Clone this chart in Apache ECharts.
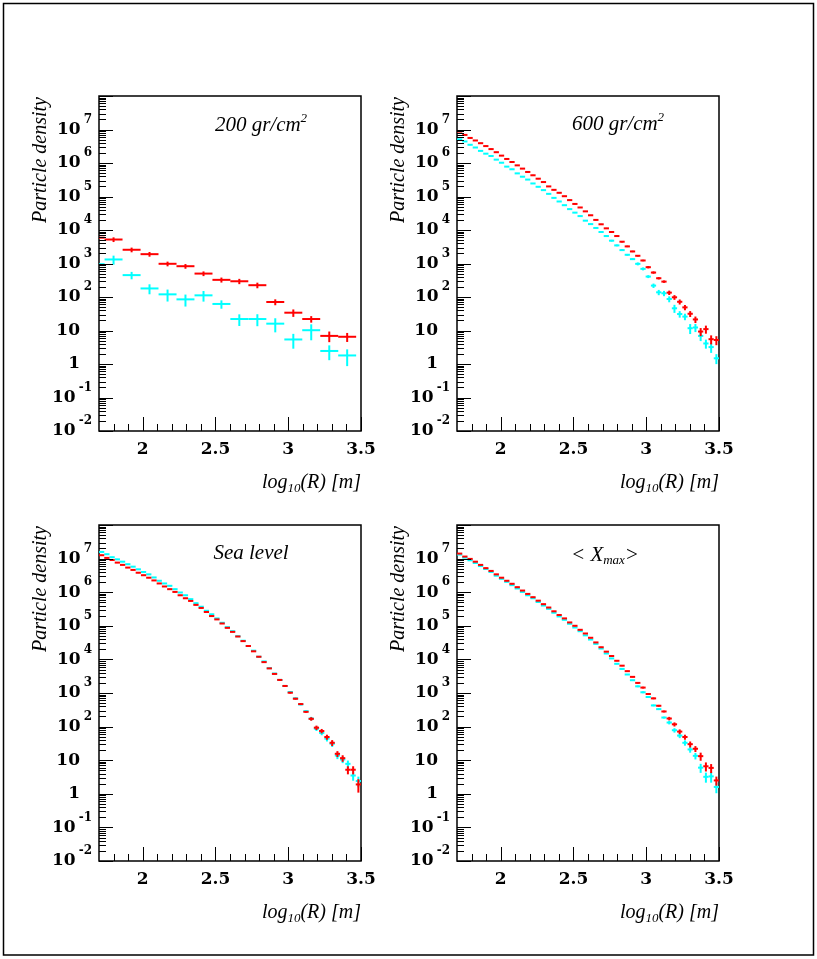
<!DOCTYPE html>
<html><head><meta charset="utf-8">
<script src="https://cdn.jsdelivr.net/npm/echarts@6/dist/echarts.min.js"></script>
<style>html,body{margin:0;padding:0;background:#fff}#c{width:817px;height:959px}</style>
</head><body><div id="c"></div>
<script>
// ---------------- data ----------------
const panelTitles = ['200 gr/cm{sup|2}', '600 gr/cm{sup|2}', 'Sea level', '< X{sub|max}>'];
const xTitle = 'log{sub|10}(R) [m]';
const yTitle = 'Particle density';
const xTickLabels = [2, 2.5, 3, 3.5];
const xMinorTicks = [1.8, 1.9, 2.1, 2.2, 2.3, 2.4, 2.6, 2.7, 2.8, 2.9, 3.1, 3.2, 3.3, 3.4];
const yDecades = [-2, -1, 0, 1, 2, 3, 4, 5, 6, 7, 8];
const yLabelDecades = [-2, -1, 0, 1, 2, 3, 4, 5, 6, 7];

// panel 1 (200 gr/cm2): coarse bins
const binWidthCoarse = 0.1234;
const xCoarse = [1.677, 1.800, 1.924, 2.047, 2.171, 2.294, 2.418, 2.541, 2.664, 2.788, 2.911, 3.035, 3.158, 3.282, 3.405];
const p1Red     = [5900, 5200, 2570, 1900, 980, 830, 500, 325, 295, 225, 71, 34, 22, 6.9, 6.5];
const p1RedErr  = [0.16, 0.16, 0.16, 0.16, 0.16, 0.16, 0.16, 0.17, 0.18, 0.19, 0.2, 0.25, 0.22, 0.35, 0.3];
const p1Cyan    = [955, 1320, 450, 180, 120, 85, 112, 62, 22, 22, 16, 5.4, 10.2, 2.45, 1.8];
const p1CyanErr = [0.3, 0.3, 0.25, 0.33, 0.39, 0.39, 0.35, 0.28, 0.38, 0.39, 0.45, 0.47, 0.5, 0.47, 0.52];

// panels 2-4: fine bins
const binWidthFine = 0.036;
const xFine = [1.718, 1.754, 1.790, 1.826, 1.862, 1.898, 1.934, 1.970, 2.006, 2.042,
  2.078, 2.114, 2.150, 2.186, 2.222, 2.258, 2.294, 2.330, 2.366, 2.402,
  2.438, 2.474, 2.510, 2.546, 2.582, 2.618, 2.654, 2.690, 2.726, 2.762,
  2.798, 2.834, 2.870, 2.906, 2.942, 2.978, 3.014, 3.050, 3.086, 3.122,
  3.158, 3.194, 3.230, 3.266, 3.302, 3.338, 3.374, 3.410, 3.446, 3.482];

// panel 2 (600 gr/cm2)
const p2Red = [8.7e6, 6.9e6, 5.6e6, 4.7e6, 3.9e6, 3.2e6, 2.6e6, 2.1e6, 1.66e6, 1.32e6,
  1.07e6, 8.5e5, 6.8e5, 5.4e5, 4.3e5, 3.4e5, 2.7e5, 2.0e5, 1.58e5, 1.29e5,
  1.02e5, 7.8e4, 6.0e4, 4.7e4, 3.6e4, 2.75e4, 2.0e4, 1.48e4, 1.12e4, 8700,
  6600, 4470, 3240, 2290, 1700, 1230, 776, 537, 363, 288,
  135, 98, 72, 49, 31.6, 21.4, 9.3, 11, 5.5, 5.2];
const p2RedErr = [0.03, 0.03, 0.03, 0.03, 0.03, 0.03, 0.03, 0.03, 0.03, 0.03,
  0.03, 0.03, 0.03, 0.03, 0.03, 0.03, 0.03, 0.03, 0.03, 0.03,
  0.03, 0.03, 0.03, 0.03, 0.03, 0.03, 0.03, 0.03, 0.03, 0.03,
  0.05, 0.05, 0.05, 0.05, 0.05, 0.05, 0.08, 0.08, 0.08, 0.08,
  0.15, 0.16, 0.17, 0.18, 0.2, 0.22, 0.27, 0.27, 0.3, 0.3];
const p2Cyan = [5.1e6, 4.4e6, 3.5e6, 2.9e6, 2.3e6, 1.9e6, 1.62e6, 1.26e6, 1.02e6, 7.8e5,
  6.5e5, 4.9e5, 3.9e5, 3.2e5, 2.45e5, 1.95e5, 1.55e5, 1.2e5, 9.1e4, 7.1e4,
  5.5e4, 4.2e4, 3.3e4, 2.6e4, 1.9e4, 1.5e4, 1.15e4, 8700, 6600, 4800,
  3470, 2510, 1820, 1350, 977, 692, 407, 219, 138, 129,
  87, 46, 31, 26, 11.7, 12.3, 6.9, 4.1, 3.2, 1.48];
const p2CyanErr = [0.03, 0.03, 0.03, 0.03, 0.03, 0.03, 0.03, 0.03, 0.03, 0.03,
  0.03, 0.03, 0.03, 0.03, 0.03, 0.03, 0.03, 0.03, 0.03, 0.03,
  0.03, 0.03, 0.03, 0.03, 0.03, 0.03, 0.03, 0.03, 0.06, 0.06,
  0.06, 0.06, 0.06, 0.06, 0.1, 0.1, 0.1, 0.15, 0.18, 0.18,
  0.2, 0.27, 0.22, 0.22, 0.33, 0.27, 0.3, 0.3, 0.33, 0.33];

// panel 3 (Sea level)
const p3Red = [1.26e7, 1.05e7, 9.1e6, 7.6e6, 6.5e6, 5.4e6, 4.6e6, 3.8e6, 3.2e6, 2.7e6,
  2.24e6, 1.82e6, 1.48e6, 1.23e6, 1.02e6, 8.1e5, 6.6e5, 5.5e5, 4.2e5, 3.4e5,
  2.57e5, 1.95e5, 1.55e5, 1.17e5, 8.7e4, 6.6e4, 4.8e4, 3.5e4, 2.5e4, 1.74e4,
  1.2e4, 8300, 5400, 3700, 2450, 1620, 1020, 676, 468, 275,
  170, 93, 74, 49, 33, 15.5, 11.5, 5.2, 5.2, 1.9];
const p3RedErr = [0.03, 0.03, 0.03, 0.03, 0.03, 0.03, 0.03, 0.03, 0.03, 0.03,
  0.03, 0.03, 0.03, 0.03, 0.03, 0.03, 0.03, 0.03, 0.03, 0.03,
  0.03, 0.03, 0.03, 0.03, 0.03, 0.03, 0.03, 0.03, 0.03, 0.03,
  0.03, 0.03, 0.03, 0.03, 0.06, 0.06, 0.06, 0.06, 0.06, 0.06,
  0.12, 0.15, 0.15, 0.17, 0.2, 0.2, 0.22, 0.27, 0.27, 0.43];
const p3Cyan = [1.58e7, 1.35e7, 1.1e7, 9.5e6, 8.1e6, 6.8e6, 5.75e6, 4.8e6, 4.0e6, 3.4e6,
  2.75e6, 2.19e6, 1.82e6, 1.55e6, 1.23e6, 9.8e5, 8.1e5, 6.2e5, 4.7e5, 3.7e5,
  2.8e5, 2.2e5, 1.66e5, 1.23e5, 9.1e4, 6.9e4, 4.9e4, 3.6e4, 2.5e4, 1.82e4,
  1.2e4, 8700, 5500, 3800, 2450, 1620, 1070, 692, 457, 288,
  174, 87, 65, 44, 31, 13.8, 10.5, 7.8, 3.5, 2.4];
const p3CyanErr = [0.03, 0.03, 0.03, 0.03, 0.03, 0.03, 0.03, 0.03, 0.03, 0.03,
  0.03, 0.03, 0.03, 0.03, 0.03, 0.03, 0.03, 0.03, 0.03, 0.03,
  0.03, 0.03, 0.03, 0.03, 0.03, 0.03, 0.03, 0.03, 0.03, 0.03,
  0.03, 0.03, 0.03, 0.03, 0.06, 0.06, 0.06, 0.06, 0.06, 0.06,
  0.12, 0.15, 0.15, 0.18, 0.2, 0.22, 0.22, 0.25, 0.3, 0.35];

// panel 4 (<Xmax>)
const p4Red = [1.41e7, 1.15e7, 9.8e6, 8.1e6, 6.5e6, 5.2e6, 4.3e6, 3.4e6, 2.7e6, 2.19e6,
  1.78e6, 1.41e6, 1.12e6, 8.9e5, 7.1e5, 5.6e5, 4.4e5, 3.5e5, 2.7e5, 2.1e5,
  1.66e5, 1.26e5, 1.0e5, 7.6e4, 5.9e4, 4.4e4, 3.2e4, 2.3e4, 1.7e4, 1.26e4,
  9100, 6500, 4470, 3020, 2000, 1450, 933, 692, 417, 282,
  174, 117, 71, 49, 30, 21.9, 13.2, 6.6, 5.9, 2.5];
const p4RedErr = [0.03, 0.03, 0.03, 0.03, 0.03, 0.03, 0.03, 0.03, 0.03, 0.03,
  0.03, 0.03, 0.03, 0.03, 0.03, 0.03, 0.03, 0.03, 0.03, 0.03,
  0.03, 0.03, 0.03, 0.03, 0.03, 0.03, 0.03, 0.03, 0.03, 0.03,
  0.03, 0.03, 0.03, 0.03, 0.06, 0.06, 0.06, 0.06, 0.06, 0.06,
  0.12, 0.14, 0.16, 0.17, 0.2, 0.2, 0.27, 0.3, 0.3, 0.3];
const p4Cyan = [1.32e7, 1.07e7, 8.9e6, 7.4e6, 6.0e6, 4.9e6, 4.0e6, 3.1e6, 2.5e6, 2.04e6,
  1.62e6, 1.29e6, 1.02e6, 8.1e5, 6.6e5, 5.1e5, 4.0e5, 3.2e5, 2.45e5, 1.9e5,
  1.51e5, 1.15e5, 8.9e4, 6.9e4, 5.2e4, 3.9e4, 2.9e4, 2.1e4, 1.5e4, 1.07e4,
  7400, 5200, 3550, 2400, 1580, 1050, 759, 427, 331, 186,
  132, 78, 54, 33, 20.9, 13.5, 6.0, 3.2, 3.3, 1.6];
const p4CyanErr = [0.03, 0.03, 0.03, 0.03, 0.03, 0.03, 0.03, 0.03, 0.03, 0.03,
  0.03, 0.03, 0.03, 0.03, 0.03, 0.03, 0.03, 0.03, 0.03, 0.03,
  0.03, 0.03, 0.03, 0.03, 0.03, 0.03, 0.03, 0.03, 0.03, 0.03,
  0.03, 0.03, 0.03, 0.03, 0.06, 0.06, 0.06, 0.06, 0.06, 0.06,
  0.12, 0.15, 0.16, 0.18, 0.2, 0.22, 0.3, 0.33, 0.35, 0.35];

// ---------------- layout / style ----------------
const RED = '#ff0000', CYAN = '#00ffff';
const SERIF_B = 'DejaVu Serif';
const SERIF_I = 'Liberation Serif';
const gridBoxes = [
  {left: 99, top: 96, width: 262, height: 335},
  {left: 457, top: 96, width: 262, height: 335},
  {left: 99, top: 525, width: 262, height: 336},
  {left: 457, top: 525, width: 262, height: 336}
];
const panels = [
  {x: xCoarse, bw: binWidthCoarse, cyan: p1Cyan, cyanErr: p1CyanErr, red: p1Red, redErr: p1RedErr},
  {x: xFine, bw: binWidthFine, cyan: p2Cyan, cyanErr: p2CyanErr, red: p2Red, redErr: p2RedErr},
  {x: xFine, bw: binWidthFine, cyan: p3Cyan, cyanErr: p3CyanErr, red: p3Red, redErr: p3RedErr},
  {x: xFine, bw: binWidthFine, cyan: p4Cyan, cyanErr: p4CyanErr, red: p4Red, redErr: p4RedErr}
];
const titlePos = [[261, 125], [618, 124], [251, 553], [605, 555]];

function zip(xs, ys, es) { return xs.map((x, i) => [x, ys[i], es[i]]); }

function crossRenderer(halfWidth) {
  return function (params, api) {
    const x = api.value(0), y = api.value(1), f = api.value(2);
    const cs = params.coordSys;
    const c = api.coord([x, y]);
    let l = api.coord([x - halfWidth, y])[0];
    let r = api.coord([x + halfWidth, y])[0];
    l = Math.max(l, cs.x); r = Math.min(r, cs.x + cs.width);
    const t = api.coord([x, y * (1 + f)])[1];
    const b = api.coord([x, y * (1 - f)])[1];
    const st = {stroke: api.visual('color'), lineWidth: 2};
    const children = [{type: 'line', shape: {x1: l, y1: c[1], x2: r, y2: c[1]}, style: st}];
    if (c[0] >= cs.x) children.push({type: 'line', shape: {x1: c[0], y1: t, x2: c[0], y2: b}, style: st});
    return {type: 'group', children: children};
  };
}

function yTickRenderer(params, api) {
  const p = api.coord([api.value(0), api.value(1)]);
  const len = api.value(2) ? 14 : 7;
  const yy = Math.round(p[1]) + 0.5;
  return {type: 'line', shape: {x1: p[0], y1: yy, x2: p[0] + len, y2: yy}, style: {stroke: '#000', lineWidth: 1}};
}
function xTickRenderer(params, api) {
  const p = api.coord([api.value(0), api.value(1)]);
  const len = api.value(2) ? 14 : 7;
  const xx = Math.round(p[0]) + 0.5;
  return {type: 'line', shape: {x1: xx, y1: p[1], x2: xx, y2: p[1] - len}, style: {stroke: '#000', lineWidth: 1}};
}

const yTickData = [];
yDecades.forEach(d => {
  yTickData.push([1.7, Math.pow(10, d), 1]);
  if (d < 8) for (let m = 2; m <= 9; m++) yTickData.push([1.7, m * Math.pow(10, d), 0]);
});
const xTickData = xTickLabels.map(v => [v, 0.01, 1]).concat(xMinorTicks.map(v => [v, 0.01, 0]));

function xLabel(v) {
  const r = Math.round(v * 10) / 10;
  if (Math.abs(r * 2 - Math.round(r * 2)) < 1e-6 && r >= 2) return String(r);
  return '';
}

const grid = [], xAxis = [], yAxis = [], series = [];
gridBoxes.forEach((g, i) => {
  grid.push(Object.assign({show: true, borderColor: '#000', borderWidth: 1.5, backgroundColor: 'transparent',
    containLabel: false, outerBoundsMode: 'none'}, g));
  xAxis.push({type: 'value', gridIndex: i, min: 1.7, max: 3.5, interval: 0.1,
    axisLine: {show: false}, axisTick: {show: false}, splitLine: {show: false},
    axisLabel: {formatter: xLabel, margin: 10, fontFamily: SERIF_B, fontWeight: 'bold', fontSize: 17, color: '#000',
      showMinLabel: true, showMaxLabel: true, hideOverlap: false}});
  yAxis.push({type: 'log', logBase: 10, gridIndex: i, min: 0.01, max: 1e8, splitNumber: 10,
    axisLine: {show: false}, axisTick: {show: false}, splitLine: {show: false}, minorTick: {show: false},
    axisLabel: {show: false}});
  const p = panels[i];
  series.push({type: 'custom', xAxisIndex: i, yAxisIndex: i, clip: true, silent: true, z: 2,
    itemStyle: {color: CYAN}, renderItem: crossRenderer(p.bw / 2), data: zip(p.x, p.cyan, p.cyanErr)});
  series.push({type: 'custom', xAxisIndex: i, yAxisIndex: i, clip: true, silent: true, z: 3,
    itemStyle: {color: RED}, renderItem: crossRenderer(p.bw / 2), data: zip(p.x, p.red, p.redErr)});
  series.push({type: 'custom', xAxisIndex: i, yAxisIndex: i, silent: true, z: 4,
    renderItem: yTickRenderer, data: yTickData});
  series.push({type: 'custom', xAxisIndex: i, yAxisIndex: i, silent: true, z: 4,
    renderItem: xTickRenderer, data: xTickData});
});

function italicStyle(size) { return {fontFamily: SERIF_I, fontStyle: 'italic', fontSize: size, fill: '#000'}; }
const textRich = {
  sup: Object.assign(italicStyle(13), {padding: [0, 0, 12, 0]}),
  sub: Object.assign(italicStyle(13), {padding: [12, 0, 0, 0]})
};
function boldStyle(size) { return {fontFamily: SERIF_B, fontWeight: 'bold', fontSize: size, fill: '#000'}; }
const yRich = {
  b: Object.assign(boldStyle(17), {lineHeight: 18}),
  bp: Object.assign(boldStyle(17), {lineHeight: 18, padding: [0, 12, 0, 0]}),
  e: Object.assign(boldStyle(12), {lineHeight: 13, padding: [0, 0, 20, 3]})
};
function yLabel(n) {
  if (n === 0) return '{bp|1}';
  if (n === 1) return '{bp|10}';
  return '{b|10}{e|' + n + '}';
}

const chart = echarts.init(document.getElementById('c'), null, {renderer: 'canvas'});
chart.setOption({animation: false, backgroundColor: '#fff', grid, xAxis, yAxis, series});

const graphic = [{type: 'rect', shape: {x: 3.5, y: 3.5, width: 810, height: 951.5},
  style: {fill: 'none', stroke: '#000', lineWidth: 1.5}, silent: true}];
gridBoxes.forEach((g, i) => {
  graphic.push({type: 'text', x: titlePos[i][0], y: titlePos[i][1], silent: true,
    style: Object.assign(italicStyle(21), {text: panelTitles[i], align: 'center', verticalAlign: 'middle', rich: textRich})});
  graphic.push({type: 'text', x: g.left + g.width, y: g.top + g.height + 52, silent: true,
    style: Object.assign(italicStyle(20), {text: xTitle, align: 'right', verticalAlign: 'middle', rich: textRich})});
  graphic.push({type: 'text', x: g.left - 58, y: g.top + 1, rotation: Math.PI / 2, silent: true,
    style: Object.assign(italicStyle(20), {text: yTitle, align: 'right', verticalAlign: 'middle'})});
  yLabelDecades.forEach(n => {
    const p = chart.convertToPixel({xAxisIndex: i, yAxisIndex: i}, [1.7, Math.pow(10, n)]);
    graphic.push({type: 'text', x: p[0] - 7, y: p[1], silent: true,
      style: Object.assign(boldStyle(17), {text: yLabel(n), align: 'right', verticalAlign: 'middle', rich: yRich})});
  });
});
chart.setOption({graphic});
</script>
</body></html>
